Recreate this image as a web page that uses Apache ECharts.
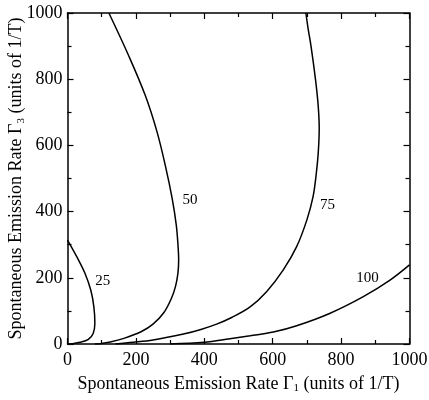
<!DOCTYPE html>
<html>
<head>
<meta charset="utf-8">
<script src="https://cdn.jsdelivr.net/npm/echarts@6/dist/echarts.min.js"></script>
<style>
  html, body { margin: 0; padding: 0; background: #fff; }
  #chart { width: 429px; height: 400px; }
</style>
</head>
<body>
<div id="chart"></div>
<script>
// contour curves [Γ1, Γ3]
const curve25 = [[0, 314], [27, 264], [51, 214], [68, 163], [77, 113], [80, 63], [75, 32], [61, 14], [37, 5], [12, 1], [0, 0]]
const curve50 = [[121, 1000], [178, 873], [227, 752], [262, 640], [288, 530], [306, 440], [318, 360], [323, 300], [325, 255], [323, 215], [316, 175], [304, 138], [282, 95], [250, 60], [215, 37], [165, 17], [125, 6], [95, 1], [80, 0]]
const curve75 = [[697, 1000], [704, 950], [712, 900], [725, 800], [733, 720], [736, 650], [733, 575], [727, 511], [718, 445], [700, 375], [670, 294], [631, 224], [582, 158], [534, 112], [480, 80], [436, 60], [390, 44], [339, 30], [250, 12], [192, 5], [140, 0]]
const curve100 = [[300, 0], [400, 5], [475, 16], [534, 25], [602, 36], [670, 55], [768, 93], [865, 143], [943, 193], [1000, 239]]
// label positions for each contour
const contourLabels = [[103, 191, '25'], [358, 435, '50'], [760, 420, '75'], [877, 198, '100']]
const tickValues = [0, 200, 400, 600, 800, 1000]

const font = "'Liberation Serif', 'Times New Roman', serif"
const black = '#000'

function axisBase (showLabel) {
  return {
    type: 'value',
    min: 0,
    max: 1000,
    interval: 200,
    nameMoveOverlap: false,
    axisLine: { show: true, onZero: false, lineStyle: { color: black, width: 1.5 } },
    axisTick: { show: true, inside: true, length: 6, lineStyle: { color: black, width: 1.2 } },
    minorTick: { show: true, splitNumber: 2, length: 4, lineStyle: { color: black, width: 1.2 } },
    splitLine: { show: false },
    axisLabel: {
      show: showLabel,
      color: black,
      fontFamily: font,
      fontSize: 18,
      formatter: v => tickValues.includes(v) ? String(v) : ''
    }
  }
}

const nameRich = {
  a: { fontFamily: font, fontSize: 18, lineHeight: 20, color: black },
  s: { fontFamily: font, fontSize: 11, lineHeight: 11, color: black, verticalAlign: 'bottom' }
}

const xBottom = Object.assign(axisBase(true), {
  position: 'bottom',
  name: '{a|Spontaneous Emission Rate Γ}{s|1}{a| (units of 1/T)}',
  nameLocation: 'middle',
  nameGap: 30,
  nameTextStyle: { rich: nameRich }
})
xBottom.axisLabel.margin = 7
const xTop = Object.assign(axisBase(false), { position: 'top' })

const yLeft = Object.assign(axisBase(true), {
  position: 'left',
  name: '{a|Spontaneous Emission Rate Γ}{s|3}{a| (units of 1/T)}',
  nameLocation: 'middle',
  nameGap: 41,
  nameTextStyle: { rich: nameRich }
})
yLeft.axisLabel.margin = 5
const yRight = Object.assign(axisBase(false), { position: 'right' })

function curveSeries (data) {
  return {
    type: 'line',
    data,
    xAxisIndex: 0,
    yAxisIndex: 0,
    smooth: 0.35,
    symbol: 'none',
    clip: true,
    lineStyle: { color: black, width: 1.5 },
    silent: true
  }
}

const option = {
  animation: false,
  backgroundColor: '#fff',
  grid: { left: 67.5, right: 19.5, top: 13, bottom: 56, containLabel: false, outerBoundsMode: 'none' },
  xAxis: [xBottom, xTop],
  yAxis: [yLeft, yRight],
  series: [
    curveSeries(curve25),
    curveSeries(curve50),
    curveSeries(curve75),
    curveSeries(curve100),
    {
      type: 'scatter',
      data: contourLabels,
      symbolSize: 0,
      silent: true,
      itemStyle: { opacity: 1 },
      label: {
        show: true,
        position: 'inside',
        formatter: p => p.value[2],
        color: black,
        opacity: 1,
        fontFamily: font,
        fontSize: 15
      }
    }
  ]
}

const chart = echarts.init(document.getElementById('chart'))
chart.setOption(option)
</script>
</body>
</html>
